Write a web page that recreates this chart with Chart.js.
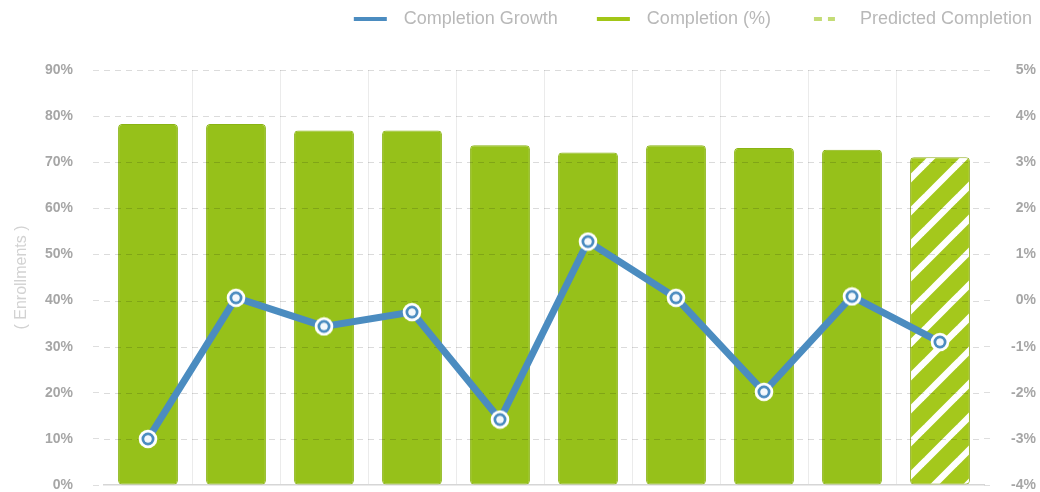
<!DOCTYPE html>
<html>
<head>
<meta charset="utf-8">
<script src="https://cdn.jsdelivr.net/npm/chart.js@4"></script>
<style>
html,body{margin:0;padding:0;background:#fff;}
#wrap{width:1040px;height:492px;}
</style>
</head>
<body>
<div id="wrap"><canvas id="c" width="1040" height="492"></canvas></div>
<script>
// ---- data ----
const categories = ['1', '2', '3', '4', '5', '6', '7', '8', '9', '10'];
const completionPct = [78.3, 78.3, 76.9, 76.9, 73.7, 72.1, 73.7, 73.1, 72.7, 71.1];
const completionGrowth = [-3.0, 0.06, -0.56, -0.25, -2.58, 1.28, 0.06, -1.98, 0.09, -0.9];
const isPredicted = [false, false, false, false, false, false, false, false, false, true];
const legendLabels = ['Completion Growth', 'Completion (%)', 'Predicted Completion'];
const axisTitle = '( Enrollments )';

// ---- styles ----
const BLUE = '#4b8cc0';
const GREEN = '#96c11a';
const GREEN_EDGE = '#8ab414';
const HATCH_BASE = '#a4c81c';
const HATCH_EDGE = '#90ae24';
const LEGEND_GREEN = '#a2c617';
const LEGEND_DASH = '#c4dc76';
const FONT = "'Liberation Sans', Arial, sans-serif";

function makeHatch() {
  const s = 33;
  const c = document.createElement('canvas');
  c.width = s; c.height = s;
  const g = c.getContext('2d');
  g.fillStyle = HATCH_BASE;
  g.fillRect(0, 0, s, s);
  g.strokeStyle = '#ffffff';
  g.lineWidth = 6.5;
  for (let k = -1; k <= 1; k++) {
    g.beginPath();
    g.moveTo(k * s - s, 2 * s);
    g.lineTo(k * s + 2 * s, -s);
    g.stroke();
  }
  return g.createPattern(c, 'repeat');
}

function makePointIcon() {
  const c = document.createElement('canvas');
  c.width = 20; c.height = 20;
  const g = c.getContext('2d');
  g.fillStyle = '#ffffff';
  g.beginPath(); g.arc(10, 10, 9.3, 0, Math.PI * 2); g.fill();
  g.strokeStyle = BLUE; g.lineWidth = 3;
  g.beginPath(); g.arc(10, 10, 5, 0, Math.PI * 2); g.stroke();
  g.fillStyle = '#f4f8fc';
  g.beginPath(); g.arc(10, 10, 3.5, 0, Math.PI * 2); g.fill();
  return c;
}

function legendSwatch(color, dashed) {
  const c = document.createElement('canvas');
  c.width = 70; c.height = 6;
  const g = c.getContext('2d');
  g.strokeStyle = color; g.lineWidth = 4;
  g.beginPath();
  if (dashed) {
    g.setLineDash([8, 6]);
    g.moveTo(33, 3); g.lineTo(54, 3);
  } else {
    g.moveTo(29, 3); g.lineTo(62, 3);
  }
  g.stroke();
  return c;
}

const hatch = makeHatch();
const pointIcon = makePointIcon();
const swatches = [legendSwatch(BLUE, false), legendSwatch(LEGEND_GREEN, false), legendSwatch(LEGEND_DASH, true)];

// grid lines drawn over the bars but under the line
const gridOverBars = {
  id: 'gridOverBars',
  afterDatasetDraw(chart, args) {
    if (args.index !== 1) return;
    const ys = chart.scales.y;
    const {left, right} = chart.chartArea;
    const ctx = chart.ctx;
    ctx.save();
    ctx.setLineDash([6, 5]);
    ctx.strokeStyle = 'rgba(0,0,0,0.14)';
    ctx.lineWidth = 1;
    ys.ticks.forEach(t => {
      if (t.value === 0) return;
      const py = Math.round(ys.getPixelForValue(t.value)) + 0.5;
      ctx.beginPath();
      ctx.moveTo(left, py);
      ctx.lineTo(right, py);
      ctx.stroke();
    });
    ctx.restore();
  }
};

const legendTweak = {
  id: 'legendTweak',
  afterInit(chart) {
    const lg = chart.legend;
    const orig = lg.fit;
    lg.fit = function () {
      orig.call(this);
      this.height = 70;
    };
  },
  afterLayout(chart) {
    chart.legend.left += 6;
    chart.legend.right += 6;
  }
};

const tickFont = {family: FONT, size: 14, weight: 'bold'};
const tickColor = '#a6a6a6';
const noPad = s => { s.paddingTop = 0; s.paddingBottom = 0; };

new Chart(document.getElementById('c'), {
  type: 'bar',
  data: {
    labels: categories,
    datasets: [
      {
        type: 'line',
        label: legendLabels[0],
        data: completionGrowth,
        yAxisID: 'y1',
        borderColor: BLUE,
        backgroundColor: BLUE,
        borderWidth: 7,
        tension: 0,
        pointStyle: pointIcon,
        pointRadius: 10,
        pointHoverRadius: 10,
        order: 0
      },
      {
        type: 'bar',
        label: legendLabels[1],
        data: completionPct,
        yAxisID: 'y',
        backgroundColor: isPredicted.map(p => p ? hatch : GREEN),
        borderColor: isPredicted.map(p => p ? HATCH_EDGE : GREEN_EDGE),
        borderWidth: 1,
        borderRadius: 4,
        borderSkipped: false,
        barPercentage: 0.68,
        categoryPercentage: 1,
        order: 1
      }
    ]
  },
  options: {
    responsive: false,
    animation: false,
    layout: {autoPadding: false, padding: {left: 0, right: 4, top: 0, bottom: 7}},
    plugins: {
      tooltip: {enabled: false},
      legend: {
        position: 'top',
        align: 'end',
        onClick: null,
        labels: {
          usePointStyle: true,
          pointStyleWidth: 70,
          padding: 10,
          color: '#b8b8b8',
          font: {family: FONT, size: 18},
          generateLabels: () => legendLabels.map((t, i) => ({
            text: t,
            pointStyle: swatches[i],
            fillStyle: 'transparent',
            strokeStyle: 'transparent',
            lineWidth: 0,
            hidden: false,
            datasetIndex: i === 0 ? 0 : 1,
            fontColor: '#b8b8b8'
          }))
        }
      }
    },
    scales: {
      x: {
        ticks: {display: false},
        grid: {
          display: true,
          offset: true,
          drawTicks: false,
          lineWidth: 1,
          color: ctx => (ctx.type !== 'tick' || ctx.index === 0) ? 'rgba(0,0,0,0)' : '#ebebeb'
        },
        border: {display: true, color: '#d6d6d6', width: 1.5},
        afterFit: s => { s.height = 0; }
      },
      y: {
        position: 'left',
        min: 0,
        max: 90,
        ticks: {stepSize: 10, padding: 20, color: tickColor, font: tickFont, callback: v => v + '%'},
        grid: {
          display: true,
          drawOnChartArea: false,
          drawTicks: true,
          tickLength: 11,
          tickColor: '#dedede',
          tickBorderDash: [6, 5]
        },
        border: {display: false},
        title: {
          display: true,
          text: axisTitle,
          color: '#d2d2d2',
          font: {family: FONT, size: 16},
          padding: {top: 12, bottom: 0}
        },
        afterFit: s => { s.width = 104; noPad(s); }
      },
      y1: {
        position: 'right',
        min: -4,
        max: 5,
        ticks: {stepSize: 1, padding: 20, crossAlign: 'far', color: tickColor, font: tickFont, callback: v => v + '%'},
        grid: {
          display: true,
          drawOnChartArea: false,
          drawTicks: true,
          tickLength: 11,
          tickColor: '#dedede',
          tickBorderDash: [6, 5]
        },
        border: {display: false},
        afterFit: s => { s.width = 52; noPad(s); }
      }
    }
  },
  plugins: [gridOverBars, legendTweak]
});
</script>
</body>
</html>
